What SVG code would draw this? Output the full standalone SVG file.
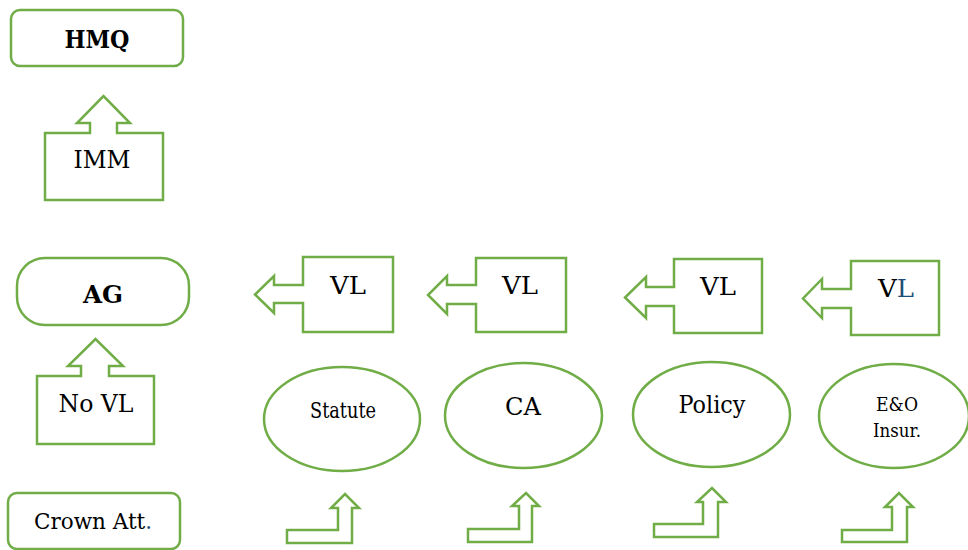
<svg xmlns="http://www.w3.org/2000/svg" width="968" height="550" viewBox="0 0 968 550">
<style>
.s{fill:#fff;stroke:#70AD47;stroke-width:2.5;stroke-linejoin:miter}
.t{font-family:'DejaVu Serif','Liberation Serif',serif;font-size:24px;fill:#000;text-anchor:middle}
.b{font-weight:bold}
.blue{fill:#1F4E79}
</style>
<rect width="968" height="550" fill="#fff"/>
<g id="hmq">
<rect class="s" x="11" y="10" width="172" height="56" rx="9"/>
<text class="t b" x="97" y="48" textLength="65" lengthAdjust="spacingAndGlyphs">HMQ</text>
</g>
<g id="imm">
<path class="s" d="M45,133 H90 V123 H77 L103.5,96 L130,123 H117 V133 H163 V200 H45 Z"/>
<text class="t" x="102" y="168" textLength="57" lengthAdjust="spacingAndGlyphs">IMM</text>
</g>
<g id="ag">
<rect class="s" x="17" y="258" width="172" height="67" rx="28"/>
<text class="t b" x="103" y="303" textLength="40" lengthAdjust="spacingAndGlyphs">AG</text>
</g>
<g id="novl">
<path class="s" d="M37,376 H81 V366 H68 L95.5,339 L123,366 H109 V376 H154 V444 H37 Z"/>
<text class="t" x="96" y="412" textLength="75" lengthAdjust="spacingAndGlyphs">No VL</text>
</g>
<g id="crown">
<rect class="s" x="8" y="493" width="172" height="56" rx="9"/>
<text class="t" x="93" y="529" style="font-size:21.5px">Crown Att<tspan class="blue">.</tspan></text>
</g>
<g id="vl1">
<path class="s" d="M303,257 H393 V332 H303 V303 H274 V313 L255,294.5 L274,276 V285 H303 Z"/>
<text class="t" x="348" y="294" textLength="36" lengthAdjust="spacingAndGlyphs">VL</text>
</g>
<g id="vl2">
<path class="s" d="M476,258 H566 V332 H476 V304 H447 V314 L428,295 L447,276 V285 H476 Z"/>
<text class="t" x="520" y="294" textLength="36" lengthAdjust="spacingAndGlyphs">VL</text>
</g>
<g id="vl3">
<path class="s" d="M674,259 H762 V333 H674 V306 H646 V318 L625,297.5 L646,277 V287 H674 Z"/>
<text class="t" x="718" y="295" textLength="36" lengthAdjust="spacingAndGlyphs">VL</text>
</g>
<g id="vl4">
<path class="s" d="M851,261 H939 V335 H851 V308 H822 V318 L803,298.5 L822,279 V289 H851 Z"/>
<text class="t" x="896" y="297" textLength="36" lengthAdjust="spacingAndGlyphs">V<tspan class="blue">L</tspan></text>
</g>
<g id="statute">
<ellipse class="s" cx="342" cy="419" rx="78" ry="52"/>
<text class="t" x="343" y="418" style="font-size:22px" textLength="66" lengthAdjust="spacingAndGlyphs">Statute</text>
</g>
<g id="ca">
<ellipse class="s" cx="523.5" cy="415.5" rx="78.5" ry="52.5"/>
<text class="t" x="523" y="415" textLength="36" lengthAdjust="spacingAndGlyphs">CA</text>
</g>
<g id="policy">
<ellipse class="s" cx="711.5" cy="414.5" rx="78.5" ry="52.5"/>
<text class="t" x="712" y="413" textLength="67" lengthAdjust="spacingAndGlyphs">Policy</text>
</g>
<g id="eo">
<ellipse class="s" cx="894" cy="416" rx="75" ry="52"/>
<text class="t" x="897" y="411" style="font-size:19px" textLength="42" lengthAdjust="spacingAndGlyphs">E&amp;O</text>
<text class="t" x="897" y="437" style="font-size:19px" textLength="48" lengthAdjust="spacingAndGlyphs">Insur.</text>
</g>
<g id="connectors">
<path class="s" d="M287,530 H338 V508 H331 L345,494 L359,508 H352 V543 H287 Z"/>
<path class="s" d="M468,529 H519 V506 H512 L526,493 L539,506 H532 V542 H468 Z"/>
<path class="s" d="M654,524 H703 V502 H697 L712,488 L726,502 H718 V537 H654 Z"/>
<path class="s" d="M842,530 H892 V507 H885 L899,493 L913,507 H907 V542 H842 Z"/>
</g>
</svg>
